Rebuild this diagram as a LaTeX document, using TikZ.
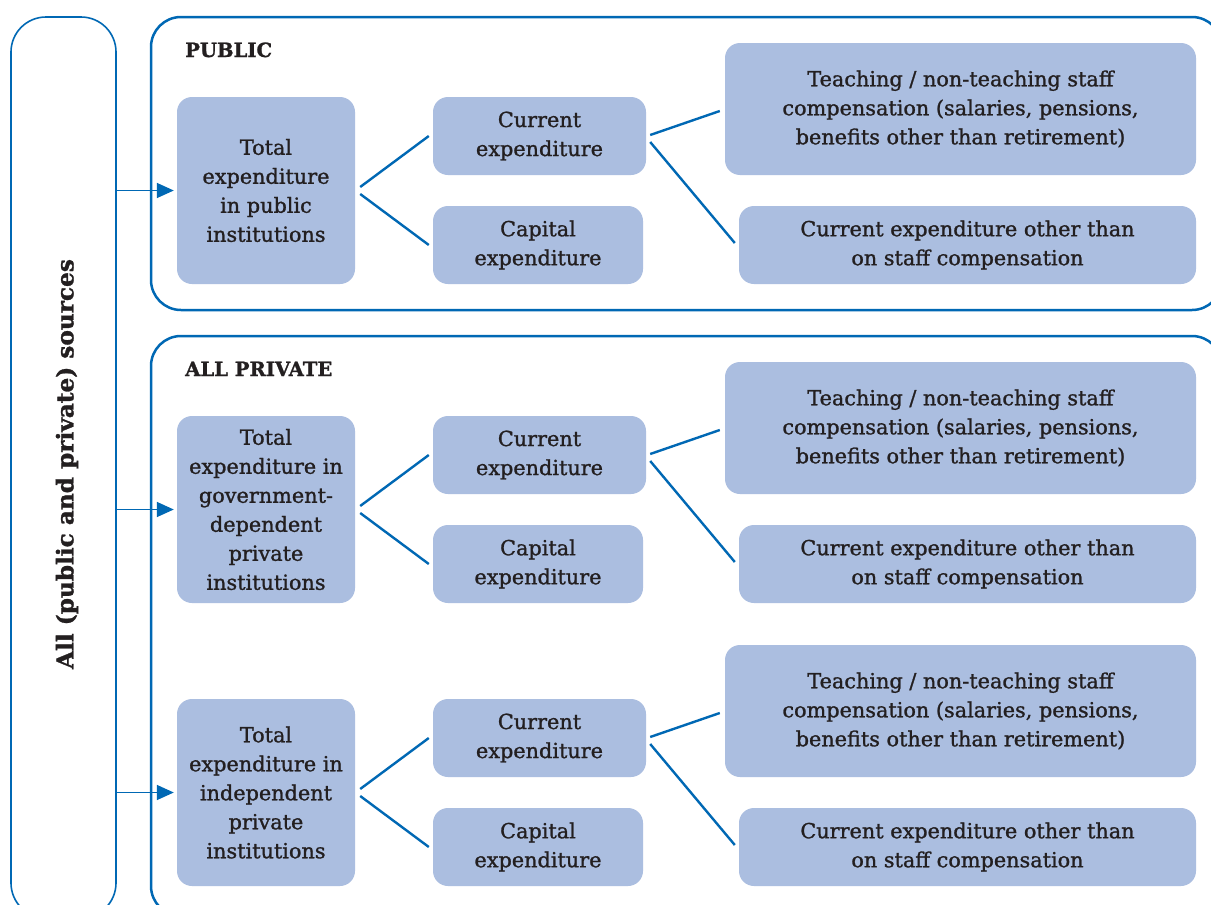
\documentclass[tikz,border=0pt]{standalone}
\usepackage{fontspec}
\setmainfont{DejaVu Serif}[FakeBold=1.2]
\newfontfamily\titlefont{DejaVu Serif Bold}[FakeBold=1.2]
\usetikzlibrary{arrows.meta,calc}
\definecolor{lineblue}{HTML}{0068B4}
\definecolor{boxfill}{HTML}{ABBEE0}
\definecolor{txt}{HTML}{231F20}
\tikzset{
 box/.style={fill=boxfill, rounded corners=15pt, inner sep=0pt, align=center, text=txt, font=\fontsize{20.8}{29}\selectfont},
 conn/.style={draw=lineblue, line width=2.4pt},
 arr/.style={draw=lineblue, line width=1.6pt, -{Triangle[length=17pt,width=15pt]}, shorten >=3pt},
 panel/.style={draw=lineblue, line width=2.5pt, rounded corners=30pt},
 title/.style={anchor=base west, inner sep=0pt, text=txt, font=\titlefont\fontsize{19.6}{22}\selectfont},
}
\newcommand\mysection[3]{%
  \node[box, minimum width=178pt, minimum height=187pt] (tot#1) at (266,190.5+#2) {#3};
  \node[box, minimum width=213pt, minimum height=78pt] (cur#1) at (539.5,136+#2) {Current\\expenditure};
  \node[box, minimum width=210pt, minimum height=78pt] (cap#1) at (538,245+#2) {Capital\\expenditure};
  \node[box, minimum width=471pt, minimum height=132pt] (tea#1) at (960.5,109+#2) {Teaching / non-teaching staff\\compensation (salaries, pensions,\\benefits other than retirement)};
  \node[box, minimum width=457pt, minimum height=78pt] (oth#1) at (967.5,245+#2) {Current expenditure other than\\on staff compensation};
  \draw[arr] (src.east |- tot#1.west) -- (tot#1.west);
  \draw[conn] ([xshift=5pt,yshift=3.5pt]tot#1.east) -- ([xshift=-4pt]cur#1.west);
  \draw[conn] ([xshift=5pt,yshift=-3.5pt]tot#1.east) -- ([xshift=-4pt]cap#1.west);
  \draw[conn] ([xshift=4pt,yshift=1pt]cur#1.east) -- ([xshift=-5pt,yshift=-2pt]tea#1.west);
  \draw[conn] ([xshift=4pt,yshift=-6pt]cur#1.east) -- ([xshift=-4pt,yshift=2pt]oth#1.west);
}
\begin{document}
\begin{tikzpicture}[x=1pt,y=-1pt]
\useasboundingbox (0,0) rectangle (1211,905);
\clip (0,0) rectangle (1211,905);
\fill[white] (0,0) rectangle (1211,905);
\node[draw=lineblue, line width=1.6pt, rounded corners=35pt, minimum width=105pt, minimum height=901pt, inner sep=0pt] (src) at (63.5,467.5) {};
\node[rotate=90, text=txt, font=\titlefont\fontsize{23.2}{25}\selectfont] (lab) at (67,464) {All (public and private) sources};
\draw[panel] (151,17) rectangle (1222,310);
\draw[panel] (151,336) rectangle (1222,916);
\node[title] (t1) at (185,57) {PUBLIC};
\node[title] (t2) at (185,376) {ALL PRIVATE};
\mysection{1}{0}{Total\\expenditure\\in public\\institutions}
\mysection{2}{319}{Total\\expenditure in\\government-\\dependent\\private\\institutions}
\mysection{3}{602}{Total\\expenditure in\\independent\\private\\institutions}
\end{tikzpicture}
\end{document}
